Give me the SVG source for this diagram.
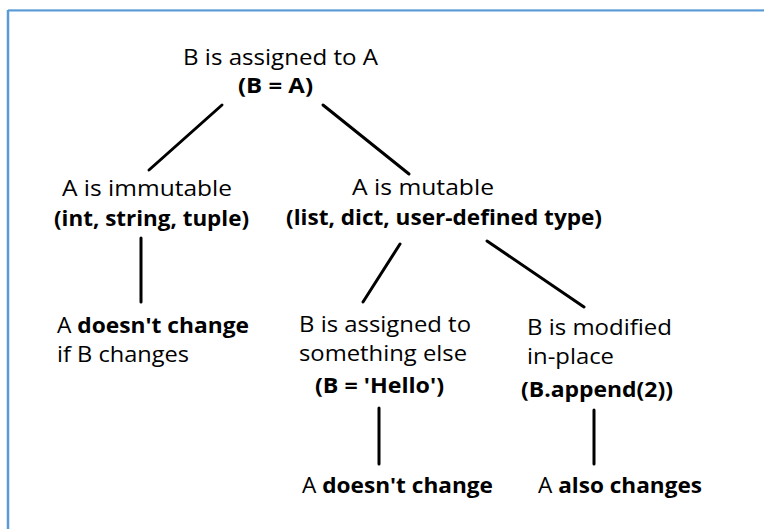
<svg xmlns="http://www.w3.org/2000/svg" width="764" height="529" viewBox="0 0 764 529">
<style>
text{font-family:"Open Sans","Noto Sans","Liberation Sans",sans-serif;font-size:21px;fill:#000}
.b{font-weight:bold}
.c{stroke:#000;stroke-width:3;stroke-linecap:round;fill:none}
</style>
<rect width="764" height="529" fill="#fff"/>
<g id="frame">
<line x1="8" y1="9.5" x2="764" y2="9.5" stroke="#c6dbf0" stroke-width="1"/>
<line x1="8" y1="10.5" x2="764" y2="10.5" stroke="#5b9bd5" stroke-width="2"/>
<line x1="8" y1="10" x2="8" y2="529" stroke="#5b9bd5" stroke-width="2.5"/>
</g>
<g id="connectors">
<line class="c" x1="222" y1="105" x2="149" y2="170"/>
<line class="c" x1="323" y1="105" x2="409" y2="174"/>
<line class="c" x1="141" y1="238" x2="141" y2="302"/>
<line class="c" x1="400" y1="244" x2="363" y2="302"/>
<line class="c" x1="487" y1="241" x2="584" y2="307"/>
<line class="c" x1="379" y1="408" x2="379" y2="464"/>
<line class="c" x1="594" y1="410" x2="594" y2="464"/>
</g>
<g id="root">
<text x="183" y="65" textLength="195" lengthAdjust="spacingAndGlyphs">B is assigned to A</text>
<text class="b" x="238" y="93" textLength="75" lengthAdjust="spacingAndGlyphs">(B = A)</text>
</g>
<g id="immutable">
<text x="62" y="196" textLength="170" lengthAdjust="spacingAndGlyphs">A is immutable</text>
<text class="b" x="54" y="226" textLength="195" lengthAdjust="spacingAndGlyphs">(int, string, tuple)</text>
</g>
<g id="mutable">
<text x="352" y="195" textLength="142" lengthAdjust="spacingAndGlyphs">A is mutable</text>
<text class="b" x="286" y="225" textLength="316" lengthAdjust="spacingAndGlyphs">(list, dict, user-defined type)</text>
</g>
<g id="immutable-result">
<text x="57" y="333" textLength="192" lengthAdjust="spacingAndGlyphs">A <tspan class="b">doesn't change</tspan></text>
<text x="57" y="362" textLength="132" lengthAdjust="spacingAndGlyphs">if B changes</text>
</g>
<g id="reassigned">
<text x="299" y="332" textLength="172" lengthAdjust="spacingAndGlyphs">B is assigned to</text>
<text x="299" y="361" textLength="168" lengthAdjust="spacingAndGlyphs">something else</text>
<text class="b" x="315" y="393" textLength="129" lengthAdjust="spacingAndGlyphs">(B = 'Hello')</text>
</g>
<g id="modified">
<text x="527" y="335" textLength="145" lengthAdjust="spacingAndGlyphs">B is modified</text>
<text x="527" y="364" textLength="87" lengthAdjust="spacingAndGlyphs">in-place</text>
<text class="b" x="521" y="397" textLength="152" lengthAdjust="spacingAndGlyphs">(B.append(2))</text>
</g>
<g id="reassigned-result">
<text x="302" y="493" textLength="191" lengthAdjust="spacingAndGlyphs">A <tspan class="b">doesn't change</tspan></text>
</g>
<g id="modified-result">
<text x="538" y="493" textLength="164" lengthAdjust="spacingAndGlyphs">A <tspan class="b">also changes</tspan></text>
</g>
</svg>
